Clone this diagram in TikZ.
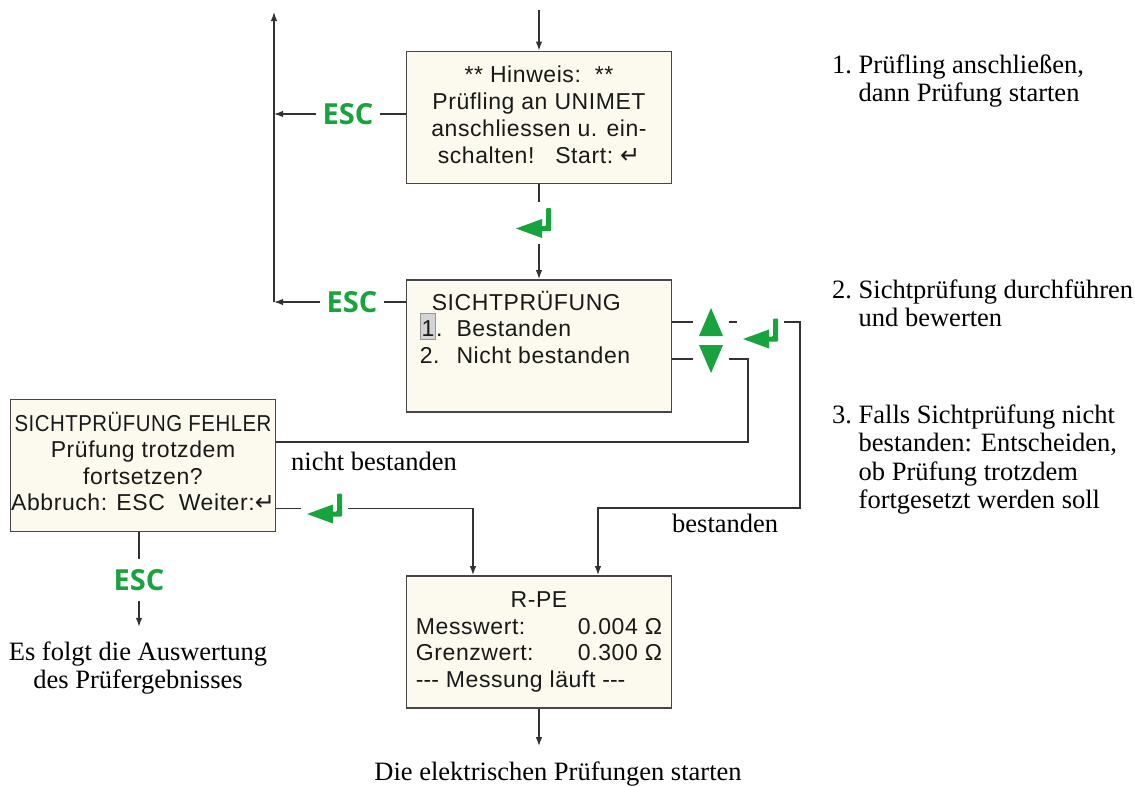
\documentclass[tikz,border=0pt]{standalone}
\usepackage{fontspec}
\usepackage{graphicx}
\setmainfont{Liberation Serif}
\newfontfamily\lcdfont{Liberation Sans}[LetterSpace=2.5]
\newfontfamily\keyfont{Open Sans}
\newfontfamily\symfont{DejaVu Sans}
\usetikzlibrary{arrows.meta,positioning}

\definecolor{keygreen}{RGB}{24,163,62}
\definecolor{lcdfill}{RGB}{252,250,238}
\definecolor{lcdline}{RGB}{70,70,70}
\definecolor{wirecol}{RGB}{50,50,50}
\definecolor{hlfill}{RGB}{212,212,212}
\definecolor{hlline}{RGB}{150,150,150}

\newcommand{\retsym}{{\symfont\fontsize{24}{24}\selectfont ↵}}
\newcommand{\hlone}{{\setlength{\fboxsep}{0.8pt}\setlength{\fboxrule}{1pt}%
  \fcolorbox{hlline}{hlfill}{\rule[-1.5pt]{0pt}{23.5pt}1}}}

% green key glyphs round a named node
\newcommand{\enterkey}[1]{%
  \fill[keygreen] ([shift={(-17.5pt,-5.5pt)}]#1.center) -- ([shift={(8.5pt,4pt)}]#1.center)
    -- ([shift={(8.5pt,-15pt)}]#1.center) -- cycle;
  \fill[keygreen, rounded corners=1pt] ([shift={(7.5pt,-3pt)}]#1.center) -- ([shift={(12.5pt,-3pt)}]#1.center)
    -- ([shift={(12.5pt,15pt)}]#1.center) -- ([shift={(17.5pt,15pt)}]#1.center)
    -- ([shift={(17.5pt,-8pt)}]#1.center) -- ([shift={(7.5pt,-8pt)}]#1.center) -- cycle;}
\newcommand{\uptri}[1]{%
  \fill[keygreen] ([shift={(0pt,14pt)}]#1.center) -- ([shift={(12pt,-14pt)}]#1.center)
    -- ([shift={(-12pt,-14pt)}]#1.center) -- cycle;}
\newcommand{\downtri}[1]{%
  \fill[keygreen] ([shift={(0pt,-14pt)}]#1.center) -- ([shift={(12pt,14pt)}]#1.center)
    -- ([shift={(-12pt,14pt)}]#1.center) -- cycle;}

\begin{document}
\begin{tikzpicture}[x=1pt, y=-1pt,
    >={Latex[length=9pt,width=6.5pt]},
    wire/.style={draw=wirecol, line width=1.3pt},
    lcdbox/.style={draw=lcdline, line width=1.8pt, fill=lcdfill, minimum width=265pt,
      minimum height=132pt, inner sep=0pt, text=black!90,
      font=\lcdfont\fontsize{23}{26.5}\selectfont},
    lcdtext/.style={inner sep=0pt, text=black!90, font=\lcdfont\fontsize{23}{26.5}\selectfont},
    esclabel/.style={text=keygreen, inner xsep=6pt, inner ysep=10pt,
      font=\keyfont\bfseries\fontsize{29}{30}\selectfont},
    note/.style={inner sep=0pt, font=\fontsize{26.5}{28.5}\selectfont},
    keynode/.style={minimum width=35pt, minimum height=30pt, inner sep=0pt, outer sep=6pt},
    trinode/.style={minimum width=24pt, minimum height=28pt, inner sep=0pt, outer sep=6pt}]
    \useasboundingbox (0,0) rectangle (1135,787);

    % Screens
    \node[lcdbox, font=\lcdfont\fontsize{23}{27}\selectfont] (hint) at (539,117.5)
      {\begin{tabular}{@{}c@{}}** Hinweis:\ \ **\\ Prüfling an UNIMET\\ anschliessen u. ein-\\
       schalten!\ \ \ Start:\ \retsym\end{tabular}};
    \node[lcdbox] (visual) at (539,346) {};
    \node[lcdtext, anchor=north west] (visualtxt) at ([xshift=14pt,yshift=-11.5pt]visual.north west)
      {\begin{tabular}{@{}l@{\ \ }l@{}}\multicolumn{2}{@{}l@{}}{\hspace*{12pt}SICHTPRÜFUNG}\\
       \smash{\hlone}. & Bestanden\\ 2. & Nicht bestanden\end{tabular}};
    \node[lcdbox] (fault) at (143,465.5)
      {\begin{tabular}{@{}c@{}}\resizebox{257pt}{\height}{SICHTPRÜFUNG FEHLER}\\ Prüfung trotzdem\\
       fortsetzen?\\ Abbruch: ESC\ \ Weiter:\retsym\end{tabular}};
    \node[lcdbox] (rpe) at (539,642)
      {\begin{tabular}{@{}p{162pt}@{}l@{}}\multicolumn{2}{@{}c@{}}{R-PE}\\ Messwert: & 0.004 Ω\\
       Grenzwert: & 0.300 Ω\\ \multicolumn{2}{@{}l@{}}{-\kern0pt-\kern0pt- Messung läuft -\kern0pt-\kern0pt-}\end{tabular}};

    % Keys
    \node[esclabel] (escA) at (348,114) {ESC};
    \node[esclabel] (escB) at (352,302) {ESC};
    \node[esclabel] (escC) at (139,580) {ESC};
    \node[keynode] (keyA) at (533.5,223) {};
    \node[keynode] (keyB) at (760.5,333.5) {};
    \node[keynode] (keyC) at (324.5,508.5) {};
    \node[trinode] (up) at (711,322) {};
    \node[trinode] (down) at (711,359) {};
    \enterkey{keyA}
    \enterkey{keyB}
    \enterkey{keyC}
    \uptri{up}
    \downtri{down}

    % Texts
    \node[note, anchor=base west] (step1) at (832,73)
      {\begin{tabular}[t]{@{}l@{\ }l@{}}1. & Prüfling anschließen,\\ & dann Prüfung starten\end{tabular}};
    \node[note, anchor=base west] (step2) at (832,298)
      {\begin{tabular}[t]{@{}l@{\ }l@{}}2. & Sichtprüfung durchführen\\ & und bewerten\end{tabular}};
    \node[note, anchor=base west] (step3) at (832,423)
      {\begin{tabular}[t]{@{}l@{\ }l@{}}3. & Falls Sichtprüfung nicht\\ & bestanden: Entscheiden,\\
       & ob Prüfung trotzdem\\ & fortgesetzt werden soll\end{tabular}};
    \node[note, anchor=base west] (lblno) at (291,470) {nicht bestanden};
    \node[note, anchor=base west] (lblyes) at (672,532) {bestanden};
    \node[note, anchor=base] (evaltxt) at (138,660)
      {\begin{tabular}[t]{@{}c@{}}Es folgt die Auswertung\\ des Prüfergebnisses\end{tabular}};
    \node[note, anchor=base] (endtxt) at (558,780) {Die elektrischen Prüfungen starten};

    % Connectors
    \coordinate (entry) at (539,10);
    \coordinate (backtop) at (274,12);
    \coordinate (backbot) at (274,302);
    \coordinate (turnyes) at (800,508);
    \coordinate (turnno) at (748,442);

    \draw[wire,->] (entry) -- (hint.north);
    \draw[wire] (hint.south) -- (hint.south |- keyA.north);
    \draw[wire,->] (hint.south |- keyA.south) -- (visual.north);
    \draw[wire] (hint.west |- escA) -- (escA.east);
    \draw[wire,->] (escA.west) -- (escA -| backtop);
    \draw[wire] (visual.west |- escB) -- (escB.east);
    \draw[wire,->] (escB.west) -- (escB -| backtop);
    \draw[wire,->] (backbot) -- (backtop);

    \draw[wire] (visual.east |- up) -- (up.west);
    \draw[wire] (up.east) -- (keyB.west |- up);
    \draw[wire,->] (keyB.east |- up) -| (turnyes) -| ([xshift=59pt]rpe.north);
    \draw[wire] (visual.east |- down) -- (down.west);
    \draw[wire] (down.east) -| (turnno) -- (fault.east |- turnno);
    \draw[wire] (fault.east |- keyC) -- (keyC.west);
    \draw[wire,->] (keyC.east) -| ([xshift=-66pt]rpe.north);

    \draw[wire] (fault.south -| escC) -- (escC.north);
    \draw[wire,->, shorten >=13pt] (escC.south) -- (escC.south |- evaltxt.north);
    \draw[wire,->, shorten >=15pt] (rpe.south) -- (rpe.south |- endtxt.north);
\end{tikzpicture}
\end{document}
